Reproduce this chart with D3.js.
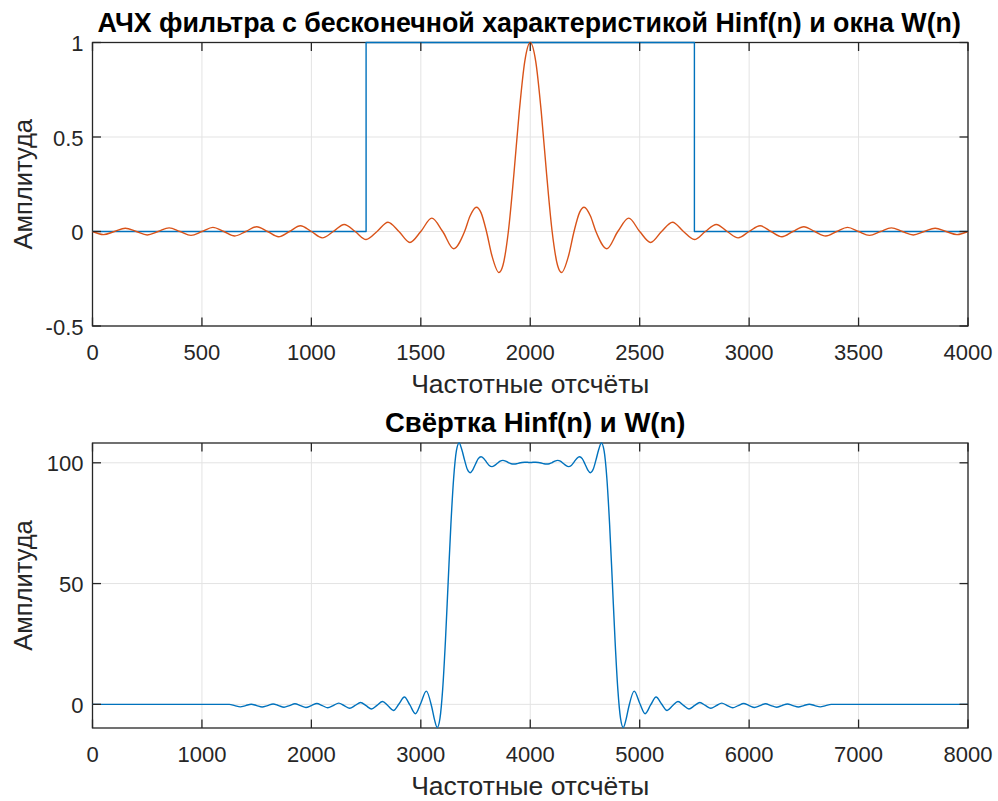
<!DOCTYPE html>
<html><head><meta charset="utf-8">
<script src="https://cdn.jsdelivr.net/npm/d3@7"></script>
<style>body{margin:0;background:#fff}svg{display:block}text{font-family:"Liberation Sans",Arial,Helvetica,sans-serif}</style>
</head><body><svg id="c" width="998" height="801"></svg>
<script>
// ---- data ----
// Top: window W(n) as steps
const winN = [0, 1250, 2750, 4000];
const winV = [0, 1, 0, 0];
// Top: Hinf(n)
const hinfN = [0,50,100,150,200,250,300,350,400,450,500,550,600,650,700,750,800,850,900,950,1000,1050,1100,1150,1200,1250,1300,1350,1400,1450,1500,1550,1600,1650,1700,1725,1754,1775,1800,1825,1857,1875,1900,1925,1950,1975,2000,2025,2050,2075,2100,2125,2143,2175,2200,2225,2246,2275,2300,2350,2400,2450,2500,2550,2600,2650,2700,2750,2800,2850,2900,2950,3000,3050,3100,3150,3200,3250,3300,3350,3400,3450,3500,3550,3600,3650,3700,3750,3800,3850,3900,3950,4000];
const hinfV = [0,-0.0163,0,0.0172,0,-0.0182,0,0.0193,0,-0.0205,0,0.0220,0,-0.0236,0,0.0255,0,-0.0277,0,0.0303,0,-0.0335,0,0.0374,0,-0.0424,0,0.0490,0,-0.0579,0,0.0707,0,-0.0909,0,0.0818,0.1284,0.1000,0,-0.1286,-0.2172,-0.1801,0,0.3001,0.6366,0.9003,1,0.9003,0.6366,0.3001,0,-0.1801,-0.2172,-0.1286,0,0.1000,0.1284,0.0818,0,-0.0909,0,0.0707,0,-0.0579,0,0.0490,0,-0.0424,0,0.0374,0,-0.0335,0,0.0303,0,-0.0277,0,0.0255,0,-0.0236,0,0.0220,0,-0.0205,0,0.0193,0,-0.0182,0,0.0172,0,-0.0163,0];
// Bottom: convolution
const convN = [0,1250,1300,1350,1400,1450,1500,1550,1600,1650,1700,1750,1800,1850,1900,1950,2000,2050,2100,2150,2200,2250,2300,2350,2400,2450,2500,2550,2600,2650,2700,2750,2800,2850,2900,2950,3000,3050,3100,3125,3150,3175,3200,3225,3250,3275,3300,3325,3350,3375,3400,3425,3450,3475,3500,3525,3550,3575,3600,3625,3650,3675,3700,3725,3750,3775,3800,3825,3850,3875,3900,3925,3950,3975,4000,4025,4050,4075,4100,4125,4150,4175,4200,4225,4250,4275,4300,4325,4350,4375,4400,4425,4450,4475,4500,4525,4550,4575,4600,4625,4650,4675,4700,4725,4750,4775,4800,4825,4850,4875,4900,4950,5000,5050,5100,5150,5200,5250,5300,5350,5400,5450,5500,5550,5600,5650,5700,5750,5800,5850,5900,5950,6000,6050,6100,6150,6200,6250,6300,6350,6400,6450,6500,6550,6600,6650,6700,6750,8000];
const convV = [0,0,-0.51,-1.04,-0.51,0.06,-0.51,-1.10,-0.51,0.13,-0.51,-1.18,-0.51,0.22,-0.51,-1.29,-0.51,0.34,-0.51,-1.43,-0.50,0.51,-0.54,-1.63,-0.46,0.76,-0.57,-1.95,-0.43,1.18,-0.61,-2.53,0.16,3.04,-0.26,-3.87,0.47,5.45,-1.10,-6.34,-9.58,-5.84,6.38,26.3,50.7,74.6,93.6,104.9,108.2,105.4,101.1,97.3,95.9,97.1,99.5,101.7,102.5,101.8,100.3,98.9,98.4,98.9,99.8,100.7,101.0,100.7,100.1,99.6,99.5,99.6,99.9,100.1,100.2,100.2,100.1,100.2,100.2,100.1,99.9,99.6,99.5,99.6,100.1,100.7,101.0,100.7,99.8,98.9,98.4,98.9,100.3,101.8,102.5,101.7,99.5,97.1,95.9,97.3,101.1,105.4,108.2,104.9,93.6,74.6,50.7,26.3,6.38,-5.84,-9.58,-6.34,-1.10,5.45,0.47,-3.87,-0.26,3.04,0.16,-2.53,-0.61,1.18,-0.43,-1.95,-0.57,0.76,-0.46,-1.63,-0.54,0.51,-0.50,-1.43,-0.51,0.34,-0.51,-1.29,-0.51,0.22,-0.51,-1.18,-0.51,0.13,-0.51,-1.10,-0.51,0.06,-0.51,-1.04,-0.51,0,0];
// ticks
const topXTicks = [0,500,1000,1500,2000,2500,3000,3500,4000];
const topYTicks = [-0.5,0,0.5,1];
const botXTicks = [0,1000,2000,3000,4000,5000,6000,7000,8000];
const botYTicks = [0,50,100];
const titles = ["АЧХ фильтра с бесконечной характеристикой Hinf(n) и окна W(n)", "Свёртка Hinf(n) и W(n)"];
const xLabel = "Частотные отсчёты";
const yLabel = "Амплитуда";

const BLUE = "#0072BD", RED = "#D95319", AX = "#262626", GRID = "#e3e3e3";
const svg = d3.select("#c");
svg.append("rect").attr("width",998).attr("height",801).attr("fill","#fff");

function panel(o){
  const x = d3.scaleLinear().domain(o.xd).range([o.l, o.r]);
  const y = d3.scaleLinear().domain(o.yd).range([o.b, o.t]);
  const g = svg.append("g");
  g.selectAll(".gx").data(o.xt).enter().append("line")
    .attr("x1",d=>x(d)).attr("x2",d=>x(d)).attr("y1",o.t).attr("y2",o.b)
    .attr("stroke",GRID).attr("stroke-width",1);
  g.selectAll(".gy").data(o.yt).enter().append("line")
    .attr("x1",o.l).attr("x2",o.r).attr("y1",d=>y(d)).attr("y2",d=>y(d))
    .attr("stroke",GRID).attr("stroke-width",1);
  g.append("rect").attr("x",o.l).attr("y",o.t).attr("width",o.r-o.l).attr("height",o.b-o.t)
    .attr("fill","none").attr("stroke",AX).attr("stroke-width",1.3);
  o.series.forEach(s=>{
    const pts = s.n.map((n,i)=>[n, s.v[i]]);
    const line = d3.line().x(d=>x(d[0])).y(d=>y(d[1])).curve(s.curve);
    g.append("path").attr("d", line(pts)).attr("fill","none")
      .attr("stroke", s.color).attr("stroke-width",1.4).attr("stroke-linejoin","round");
  });
  const tl = 8.5;
  o.xt.forEach(d=>{
    g.append("line").attr("x1",x(d)).attr("x2",x(d)).attr("y1",o.b).attr("y2",o.b-tl).attr("stroke",AX).attr("stroke-width",1.3);
    g.append("line").attr("x1",x(d)).attr("x2",x(d)).attr("y1",o.t).attr("y2",o.t+tl).attr("stroke",AX).attr("stroke-width",1.3);
    g.append("text").attr("x",x(d)).attr("y",o.b+34).attr("text-anchor","middle")
      .attr("font-size",22).attr("fill",AX).text(String(d));
  });
  o.yt.forEach(d=>{
    g.append("line").attr("x1",o.l).attr("x2",o.l+tl).attr("y1",y(d)).attr("y2",y(d)).attr("stroke",AX).attr("stroke-width",1.3);
    g.append("line").attr("x1",o.r).attr("x2",o.r-tl).attr("y1",y(d)).attr("y2",y(d)).attr("stroke",AX).attr("stroke-width",1.3);
    g.append("text").attr("x",o.l-9).attr("y",y(d)+8.5).attr("text-anchor","end")
      .attr("font-size",22).attr("fill",AX).text(String(d));
  });
  g.append("text").attr("x",(o.l+o.r)/2).attr("y",o.b+67).attr("text-anchor","middle")
    .attr("font-size",26.5).attr("fill",AX).text(xLabel);
  g.append("text").attr("transform",`translate(32,${(o.t+o.b)/2}) rotate(-90)`).attr("text-anchor","middle")
    .attr("font-size",25.5).attr("fill",AX).text(yLabel);
  g.append("text").attr("x",(o.l+o.r)/2 + o.tdx).attr("y",o.t-11).attr("text-anchor","middle")
    .attr("font-size",o.tfs).attr("font-weight","bold").attr("fill","#000").text(o.title);
}

panel({xd:[0,4000], yd:[-0.5,1], l:92.5, r:968, t:42.5, b:326, xt:topXTicks, yt:topYTicks, title:titles[0], tfs:26.8, tdx:-1,
  series:[{n:winN, v:winV, color:BLUE, curve:d3.curveStepAfter},{n:hinfN, v:hinfV, color:RED, curve:d3.curveMonotoneX}]});
panel({xd:[0,8000], yd:[-9.8,108.2], l:92.5, r:968, t:443, b:728, xt:botXTicks, yt:botYTicks, title:titles[1], tfs:27.5, tdx:5,
  series:[{n:convN, v:convV, color:BLUE, curve:d3.curveMonotoneX}]});
</script></body></html>
